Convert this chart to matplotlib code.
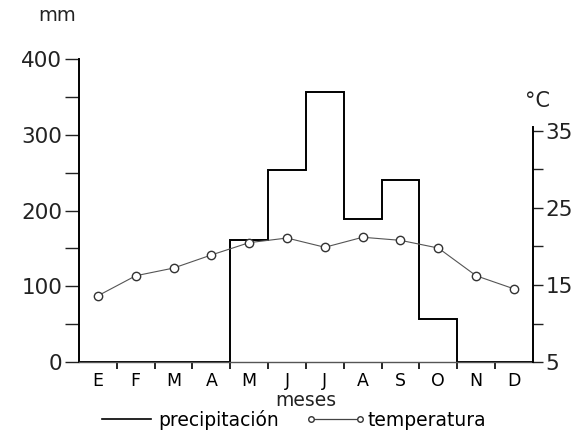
import numpy as np
import matplotlib.pyplot as plt
from matplotlib.lines import Line2D

plt.rcParams['font.family'] = ['DejaVu Sans']

# datos del climograma
meses = ['E', 'F', 'M', 'A', 'M', 'J', 'J', 'A', 'S', 'O', 'N', 'D']
precipitacion = [0, 0, 0, 0, 161, 254, 356, 189, 240, 57, 0, 0]      # mm
temperatura = [13.6, 16.2, 17.2, 18.9, 20.5, 21.1, 19.9, 21.2, 20.8, 19.8, 16.2, 14.5]  # °C

bordes = np.arange(len(meses) + 1)
centros = bordes[:-1] + 0.5

fig = plt.figure(figsize=(5.83, 4.38), dpi=100)
ax = fig.add_axes([0.1355, 0.1735, 0.7785, 0.6915])

# precipitación en escalones
ax.stairs(precipitacion, bordes, color='black', linewidth=1.4)
ax.set_xlim(0, 12)
ax.set_ylim(0, 400)

ax.spines['top'].set_visible(False)
ax.spines['right'].set_visible(False)
ax.spines['left'].set_linewidth(1.4)
ax.spines['bottom'].set_linewidth(1.0)
ax.spines['bottom'].set_color('#555555')

ax.set_yticks([0, 100, 200, 300, 400])
ax.set_yticks([50, 150, 250, 350], minor=True)
ax.tick_params(axis='y', which='both', direction='out', length=10, width=1.0,
               labelsize=15.5, pad=2, colors='#222222')
ax.set_xticks(bordes[1:-1])
ax.set_xticklabels([])
ax.set_xticks(centros, minor=True)
ax.set_xticklabels(meses, minor=True)
ax.tick_params(axis='x', which='major', direction='out', length=5, width=1.2)
ax.tick_params(axis='x', which='minor', length=0, labelsize=12.5, pad=7)

# temperatura en eje derecho
ax2 = ax.twinx()
ax2.set_ylim(5, 5 + 400 / 10.17)
ax2.plot(centros, temperatura, color='#555555', linewidth=0.8, marker='o',
         markersize=6, markerfacecolor='white', markeredgecolor='#333333', markeredgewidth=1.0)
for s in ['top', 'left', 'bottom']:
    ax2.spines[s].set_visible(False)
ax2.spines['right'].set_bounds(5, 35.5)
ax2.spines['right'].set_linewidth(1.4)
ax2.set_yticks([5, 15, 25, 35])
ax2.set_yticks([10, 20, 30], minor=True)
ax2.tick_params(axis='y', which='both', direction='out', length=7, width=1.0,
                labelsize=15.5, pad=2, colors='#222222')

fig.text(0.065, 0.965, 'mm', fontsize=14, ha='left', va='center', color='#222222')
fig.text(0.9, 0.77, '°C', fontsize=15, ha='left', va='center', color='#222222')
ax.set_xlabel('meses', fontsize=13.5, labelpad=1, color='#222222')

handles = [Line2D([0], [0], color='black', linewidth=1.2),
           Line2D([0], [0], color='#444444', linewidth=0.9, marker='o', markersize=4,
                  markerfacecolor='white', markeredgecolor='#333333')]
fig.legend(handles, ['precipitación', 'temperatura'], loc='lower center', ncol=2,
           frameon=False, fontsize=13.5, handlelength=3.2, handletextpad=0.1,
           columnspacing=1.4, numpoints=2, bbox_to_anchor=(0.5, -0.02))

fig.savefig('out.png', dpi=100)
